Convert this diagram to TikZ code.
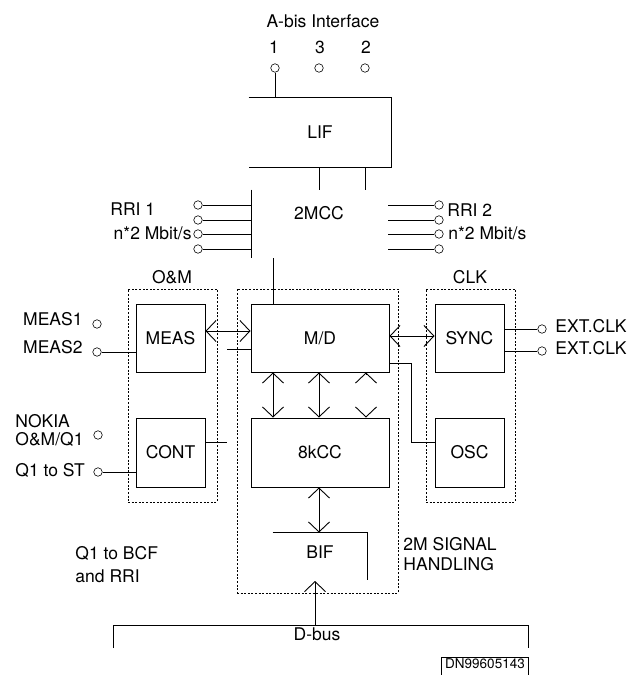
\documentclass[tikz,border=0pt]{standalone}
\usepackage{fontspec}
\setmainfont{TeX Gyre Heros}
\usetikzlibrary{arrows.meta}
\begin{document}
\begin{tikzpicture}[x=1pt,y=-1pt,
  every node/.style={font=\fontsize{17.5}{20}\selectfont, inner sep=0pt},
  line width=0.9pt,
  blk/.style={draw, minimum width=69pt, minimum height=68pt, text height=12.5pt, text depth=0pt},
  wide/.style={blk, minimum width=138pt},
  grp/.style={draw, dash pattern=on 2pt off 1.6pt, line width=0.8pt},
  port/.style={circle, draw, line width=0.6pt, minimum size=8.5pt},
  lbl/.style={anchor=base},
  dbl/.style={{Straight Barb[length=10pt,width=21pt]}-{Straight Barb[length=10pt,width=21pt]}},
  sgl/.style={-{Straight Barb[length=10pt,width=21pt]}},
]
\useasboundingbox (0,0) rectangle (634,675);
\clip (0,0) rectangle (634,675);

% A-bis interface
\node[lbl] (abis) at (323,27) {A-bis Interface};
\node[lbl] (n1) at (274,53) {1};
\node[lbl] (n3) at (320,53) {3};
\node[lbl] (n2) at (366,53) {2};
\node[port] (p1) at (275,68) {};
\node[port] (p3) at (319,68) {};
\node[port] (p2) at (365,68) {};

% LIF
\node[minimum width=142pt, minimum height=69pt, text height=12.5pt, text depth=0pt] (LIF) at (320,132.5) {LIF};
\draw (LIF.north west) -- (LIF.north east) -- (LIF.south east) -- (LIF.south west);
\draw (p1) -- (p1 |- LIF.north);

% 2MCC
\node[minimum width=136pt, minimum height=68pt] (MCC) at (320,224) {};
\node[lbl] (mcct) at (319,219) {2MCC};
\draw (MCC.north west) -- (MCC.south west);
\draw (LIF.south -| p3) -- (MCC.north -| p3);
\draw (LIF.south -| p2) -- (MCC.north -| p2);

% RRI ports
\node[port] (l1) at (198,205) {};
\node[port] (l2) at (198,220) {};
\node[port] (l3) at (198,234) {};
\node[port] (l4) at (198,249) {};
\foreach \p in {l1,l2,l3,l4} \draw (\p) -- (\p -| MCC.west);
\node[port] (r1) at (439,205) {};
\node[port] (r2) at (439,220) {};
\node[port] (r3) at (439,234) {};
\node[port] (r4) at (439,249) {};
\foreach \p in {r1,r2,r3,r4} \draw (\p -| MCC.east) -- (\p);
\node[anchor=base west] (rri1) at (110,215) {RRI 1};
\node[anchor=base east] (rri1b) at (192,239) {n*2 Mbit/s};
\node[anchor=base west] (rri2) at (447,216) {RRI 2};
\node[anchor=base west] (rri2b) at (448,239) {n*2 Mbit/s};

% groups
\node[grp, minimum width=89pt, minimum height=213pt] (OM) at (172.5,395.5) {};
\node[grp, minimum width=161pt, minimum height=304pt] (SH) at (317.5,441) {};
\node[grp, minimum width=89pt, minimum height=213pt] (CLKg) at (470.5,395.5) {};
\node[lbl] (omt) at (172,283) {O\&M};
\node[lbl] (clkt) at (470,283) {CLK};

% blocks
\node[blk] (MEAS) at (170.5,338) {MEAS};
\node[blk, minimum height=69pt] (CONT) at (170.5,452.5) {CONT};
\node[wide] (MD) at (320,338) {M/D};
\node[wide, minimum height=69pt] (KCC) at (320,452.5) {8kCC};
\node[blk] (SYNC) at (469.5,338) {SYNC};
\node[blk, minimum height=69pt] (OSC) at (469.5,452.5) {OSC};

\draw ([xshift=-47pt]MD.north) -- ([xshift=-47pt]MD.north |- MCC.south);

% left side ports
\node[port] (m1) at (97,324) {};
\node[port] (m2) at (97,352) {};
\node[anchor=base east] (m1t) at (83,325) {MEAS1};
\node[anchor=base east] (m2t) at (83,353) {MEAS2};
\draw (m2) -- (m2 -| MEAS.west);
\node[port] (nk) at (98,435) {};
\node[port] (q1) at (98,472) {};
\node[anchor=base west] (nkt) at (15,427) {NOKIA};
\node[anchor=base west] (nkt2) at (15,445) {O\&M/Q1};
\node[anchor=base west] (q1t) at (15,476) {Q1 to ST};
\draw (q1) -- (q1 -| CONT.west);
\coordinate (contend) at (227,442);
\draw (CONT.east |- contend) -- (contend);
\draw[dbl] ([yshift=7pt]MD.west) -- ([yshift=7pt]MEAS.east);
\coordinate (mdstub) at (227,349);
\draw (MD.west |- mdstub) -- (mdstub);

% right side
\draw[dbl] ([yshift=2pt]MD.east) -- ([yshift=2pt]SYNC.west);
\draw ([yshift=-25pt]MD.east) -| ([xshift=-23pt,yshift=10.5pt]OSC.west) -- ([yshift=10.5pt]OSC.west);
\node[port] (e1) at (542,329) {};
\node[port] (e2) at (542,351) {};
\draw (e1 -| SYNC.east) -- (e1);
\draw (e2 -| SYNC.east) -- (e2);
\node[anchor=base west] (e1t) at (555,332) {EXT.CLK};
\node[anchor=base west] (e2t) at (555,354) {EXT.CLK};

% M/D <-> 8kCC
\draw[dbl] ([xshift=-47pt]MD.south) -- ([xshift=-47pt]KCC.north);
\draw[dbl] ([xshift=-1pt]MD.south) -- ([xshift=-1pt]KCC.north);
\draw[sgl] ([xshift=46pt,yshift=-2pt]MD.south) -- ([xshift=46pt]MD.south);
\draw[sgl] ([xshift=46pt,yshift=2pt]KCC.north) -- ([xshift=46pt]KCC.north);

% BIF
\node[minimum width=94pt, minimum height=47pt, text height=12.5pt, text depth=9pt] (BIF) at (320,556.5) {BIF};
\draw (BIF.north west) -- (BIF.north east) -- (BIF.south east);
\draw[dbl] ([xshift=-1pt]KCC.south) -- ([xshift=-1pt]BIF.north);

% D-bus
\coordinate (busL) at (113,648);
\coordinate (busR) at (528,648);
\coordinate (bustap) at (315,625);
\coordinate (dtip) at (315,581);
\draw (busL) -- (busL |- bustap) -- (busR |- bustap) -- (busR);
\draw[sgl] (bustap) -- (dtip);
\node[lbl] (dbus) at (317,640) {D-bus};

% texts
\node[anchor=base west] (bcf1) at (75,559) {Q1 to BCF};
\node[anchor=base west] (bcf2) at (75,582) {and RRI};
\node[anchor=base west] (sh1) at (403,550) {2M SIGNAL};
\node[anchor=base west] (sh2) at (403,570) {HANDLING};

% document number
\node[anchor=base, font=\fontsize{13.5}{14}\selectfont] (dn) at (485,668) {DN99605143};
\draw[line width=0.8pt] ([xshift=-3pt]dn.north west) rectangle ([xshift=3pt,yshift=-12pt]dn.south east);
\end{tikzpicture}
\end{document}
